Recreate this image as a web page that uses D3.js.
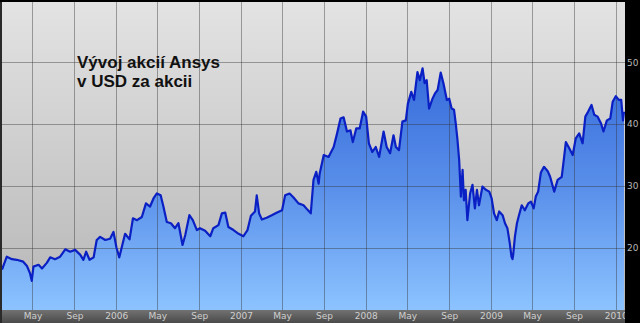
<!DOCTYPE html>
<html>
<head>
<meta charset="utf-8">
<script src="https://cdn.jsdelivr.net/npm/d3@7.9.0/dist/d3.min.js"></script>
<style>
  html, body { margin: 0; padding: 0; background: #000; }
  svg { display: block; }
</style>
</head>
<body>
<svg id="chart" width="640" height="323"></svg>
<script>
// closing prices (USD per share)
const dates = [
  '2005-02-01','2005-02-15','2005-03-02','2005-03-16','2005-04-04','2005-04-15','2005-04-24','2005-04-29',
  '2005-05-04','2005-05-19','2005-05-29','2005-06-12','2005-06-22','2005-07-06','2005-07-21','2005-08-05',
  '2005-08-19','2005-09-03','2005-09-18','2005-09-27','2005-10-05','2005-10-15','2005-10-27','2005-11-05',
  '2005-11-15','2005-11-30','2005-12-14','2005-12-24','2006-01-02','2006-01-10','2006-01-18','2006-01-27',
  '2006-02-09','2006-02-19','2006-03-03','2006-03-17','2006-03-29','2006-04-10','2006-04-20','2006-04-30',
  '2006-05-11','2006-05-19','2006-05-29','2006-06-10','2006-06-22','2006-07-02','2006-07-14','2006-07-22',
  '2006-08-03','2006-08-13','2006-08-25','2006-09-03','2006-09-18','2006-10-03','2006-10-12','2006-10-27',
  '2006-11-06','2006-11-16','2006-11-25','2006-12-10','2006-12-25','2007-01-08','2007-01-20','2007-01-30',
  '2007-02-11','2007-02-16','2007-02-23','2007-03-03','2007-03-17','2007-04-01','2007-04-15','2007-05-01',
  '2007-05-10','2007-05-23','2007-06-03','2007-06-18','2007-07-03','2007-07-14','2007-07-24','2007-08-01',
  '2007-08-09','2007-08-16','2007-08-19','2007-08-31','2007-09-14','2007-09-29','2007-10-09','2007-10-19',
  '2007-10-28','2007-11-07','2007-11-17','2007-11-24','2007-12-04','2007-12-14','2007-12-24','2008-01-02',
  '2008-01-10','2008-01-20','2008-01-30','2008-02-09','2008-02-22','2008-03-02','2008-03-12','2008-03-22',
  '2008-03-29','2008-04-07','2008-04-17','2008-04-27','2008-05-03','2008-05-13','2008-05-21','2008-05-31',
  '2008-06-07','2008-06-15','2008-06-21','2008-06-27','2008-07-04','2008-07-14','2008-07-22','2008-07-29',
  '2008-08-07','2008-08-15','2008-08-25','2008-09-01','2008-09-08','2008-09-15','2008-09-20','2008-09-25',
  '2008-09-30','2008-10-05','2008-10-10','2008-10-14','2008-10-19','2008-10-24','2008-11-01','2008-11-08',
  '2008-11-15','2008-11-21','2008-11-27','2008-12-07','2008-12-17','2008-12-27','2009-01-03','2009-01-10',
  '2009-01-18','2009-01-25','2009-02-04','2009-02-11','2009-02-18','2009-02-25','2009-03-02','2009-03-05',
  '2009-03-07','2009-03-12','2009-03-18','2009-03-24','2009-04-01','2009-04-10','2009-04-20','2009-04-28',
  '2009-05-06','2009-05-12','2009-05-19','2009-05-27','2009-06-05','2009-06-16','2009-06-23','2009-07-05',
  '2009-07-15','2009-07-27','2009-08-03','2009-08-08','2009-08-18','2009-08-28','2009-09-06','2009-09-16',
  '2009-09-26','2009-10-04','2009-10-12','2009-10-22','2009-10-30','2009-11-09','2009-11-19','2009-11-26',
  '2009-12-06','2009-12-16','2009-12-23','2010-01-01','2010-01-10','2010-01-17','2010-01-22','2010-01-25'
];
const prices = [
  16.5, 18.6, 18.2, 18.1, 17.8, 17.1, 15.9, 14.7,
  17.0, 17.3, 16.7, 17.6, 18.5, 18.2, 18.6, 19.8,
  19.4, 19.7, 18.9, 18.1, 19.4, 18.1, 18.5, 21.3,
  21.8, 21.3, 21.5, 22.6, 20.0, 18.5, 20.3, 22.3,
  21.4, 24.8, 24.5, 25.0, 27.2, 26.7, 28.0, 28.8,
  28.5, 26.7, 24.2, 24.0, 23.2, 24.0, 20.5, 22.1,
  25.3, 24.5, 22.9, 23.2, 22.8, 21.9, 23.2, 23.7,
  25.6, 25.7, 23.4, 22.9, 22.3, 21.9, 22.9, 25.2,
  25.9, 28.5, 25.6, 24.6, 24.9, 25.3, 25.7, 26.1,
  28.5, 28.8, 28.2, 27.2, 26.9, 26.2, 25.6, 31.0,
  32.3, 30.4, 32.0, 35.0, 34.7, 36.3, 38.5, 40.9,
  41.1, 38.8, 39.0, 37.1, 39.3, 39.3, 42.0, 41.2,
  36.9, 35.5, 36.3, 34.7, 38.8, 36.3, 35.3, 38.2,
  36.3, 35.8, 40.4, 40.6, 43.3, 45.2, 43.9, 48.4,
  47.1, 49.0, 46.6, 47.1, 42.5, 44.1, 45.0, 45.5,
  48.3, 46.6, 43.9, 44.1, 42.5, 42.3, 40.1, 37.5,
  34.2, 28.3, 32.6, 27.7, 29.4, 24.5, 28.8, 30.2,
  26.4, 29.4, 26.9, 29.9, 29.4, 29.1, 28.0, 25.6,
  24.5, 25.9, 25.3, 24.0, 23.2, 20.8, 18.6, 18.2,
  18.9, 21.8, 24.0, 25.3, 26.9, 26.1, 27.2, 27.5,
  26.4, 28.3, 29.1, 32.2, 33.1, 32.4, 31.5, 29.1,
  31.0, 31.5, 34.7, 37.1, 36.1, 35.0, 37.7, 38.5,
  36.9, 41.2, 42.0, 43.1, 41.5, 41.2, 40.1, 38.8,
  40.6, 40.9, 43.6, 44.5, 43.9, 43.9, 40.6, 42.0
];
const yTicks = [20, 30, 40, 50];
const titleLines = ['Vývoj akcií Ansys', 'v USD za akcii'];
const monthNames = ['Jan','Feb','Mar','Apr','May','Jun','Jul','Aug','Sep','Oct','Nov','Dec'];

const parse = d3.timeParse('%Y-%m-%d');
const data = dates.map((d, i) => ({ date: parse(d), price: prices[i] }));

const W = 640, H = 323;
const plotLeft = 2, plotRight = 625, plotTop = 2, plotBottom = 310;

const x = d3.scaleTime()
  .domain([parse('2005-02-01'), parse('2010-01-28')])
  .range([plotLeft, plotRight]);
const y = d3.scaleLinear()
  .domain([10, 59.7])
  .range([plotBottom, plotTop]);

const svg = d3.select('#chart');
const defs = svg.append('defs');

const bg = defs.append('linearGradient').attr('id', 'bg')
  .attr('gradientUnits', 'userSpaceOnUse')
  .attr('x1', 0).attr('y1', plotTop).attr('x2', 0).attr('y2', plotBottom);
bg.append('stop').attr('offset', '0%').attr('stop-color', '#e3e3e3');
bg.append('stop').attr('offset', '100%').attr('stop-color', '#b6b6b6');

const blue = defs.append('linearGradient').attr('id', 'blue')
  .attr('gradientUnits', 'userSpaceOnUse')
  .attr('x1', 0).attr('y1', plotTop + 40).attr('x2', 0).attr('y2', plotBottom);
blue.append('stop').attr('offset', '0%').attr('stop-color', '#2f63d8');
blue.append('stop').attr('offset', '55%').attr('stop-color', '#5a90ea');
blue.append('stop').attr('offset', '100%').attr('stop-color', '#8cc3ff');

const band = defs.append('linearGradient').attr('id', 'band')
  .attr('x1', 0).attr('y1', 0).attr('x2', 0).attr('y2', 1);
band.append('stop').attr('offset', '0%').attr('stop-color', '#727272');
band.append('stop').attr('offset', '100%').attr('stop-color', '#4a4a4a');

// plot background
svg.append('rect')
  .attr('x', plotLeft).attr('y', plotTop)
  .attr('width', plotRight - plotLeft).attr('height', plotBottom - plotTop)
  .attr('fill', 'url(#bg)');

// filled area under the price
const area = d3.area()
  .x(d => x(d.date))
  .y0(plotBottom)
  .y1(d => y(d.price));

svg.append('path')
  .datum(data)
  .attr('d', area)
  .attr('fill', 'url(#blue)');

// grid
const xTicks = x.ticks(d3.timeMonth.every(4));
svg.append('g')
  .selectAll('line')
  .data(xTicks)
  .join('line')
  .attr('x1', d => Math.round(x(d)) + 0.5).attr('x2', d => Math.round(x(d)) + 0.5)
  .attr('y1', plotTop).attr('y2', plotBottom)
  .attr('stroke', 'rgba(50,50,50,0.42)')
  .attr('stroke-width', 1);

svg.append('g')
  .selectAll('line')
  .data(yTicks)
  .join('line')
  .attr('x1', plotLeft).attr('x2', plotRight)
  .attr('y1', d => Math.round(y(d)) + 0.5).attr('y2', d => Math.round(y(d)) + 0.5)
  .attr('stroke', 'rgba(50,50,50,0.42)')
  .attr('stroke-width', 1);

// price line
const line = d3.line()
  .x(d => x(d.date))
  .y(d => y(d.price));

svg.append('path')
  .datum(data)
  .attr('d', line)
  .attr('fill', 'none')
  .attr('stroke', '#0a1fc4')
  .attr('stroke-width', 2.2)
  .attr('stroke-linejoin', 'round');

// bottom band with month labels
svg.append('rect')
  .attr('x', 0).attr('y', plotBottom)
  .attr('width', W).attr('height', H - plotBottom)
  .attr('fill', 'url(#band)');

const xAxis = d3.axisBottom(x)
  .tickValues(xTicks)
  .tickSize(0)
  .tickPadding(3)
  .tickFormat(d => d.getMonth() === 0 ? d.getFullYear() : monthNames[d.getMonth()]);

const gx = svg.append('g')
  .attr('transform', `translate(0,${plotBottom})`)
  .call(xAxis);
gx.select('.domain').remove();
gx.selectAll('text')
  .attr('fill', '#cfcfcf')
  .style('font-family', '"DejaVu Sans", Verdana, sans-serif')
  .style('font-size', '9px');

// frame: left edge, top strip, right panel
svg.append('rect').attr('x', 0).attr('y', 0).attr('width', plotLeft).attr('height', H).attr('fill', '#2a2a2a');
svg.append('rect').attr('x', 0).attr('y', 0).attr('width', W).attr('height', plotTop).attr('fill', '#000');
svg.append('rect').attr('x', plotRight).attr('y', 0).attr('width', W - plotRight).attr('height', H).attr('fill', '#000');

const gy = svg.append('g')
  .attr('transform', `translate(${plotRight},0)`)
  .call(d3.axisRight(y).tickValues(yTicks).tickSize(0).tickPadding(2));
gy.select('.domain').remove();
gy.selectAll('text')
  .attr('fill', '#b8b8b8')
  .style('font-family', '"DejaVu Sans", Verdana, sans-serif')
  .style('font-size', '9px');

// title
svg.append('text')
  .attr('x', 77).attr('y', 68)
  .attr('fill', '#111')
  .style('font-family', '"Liberation Sans", Arial, sans-serif')
  .style('font-size', '17px')
  .style('font-weight', 'bold')
  .selectAll('tspan')
  .data(titleLines)
  .join('tspan')
  .attr('x', 77)
  .attr('dy', (d, i) => i === 0 ? 0 : 19)
  .text(d => d);
</script>
</body>
</html>
